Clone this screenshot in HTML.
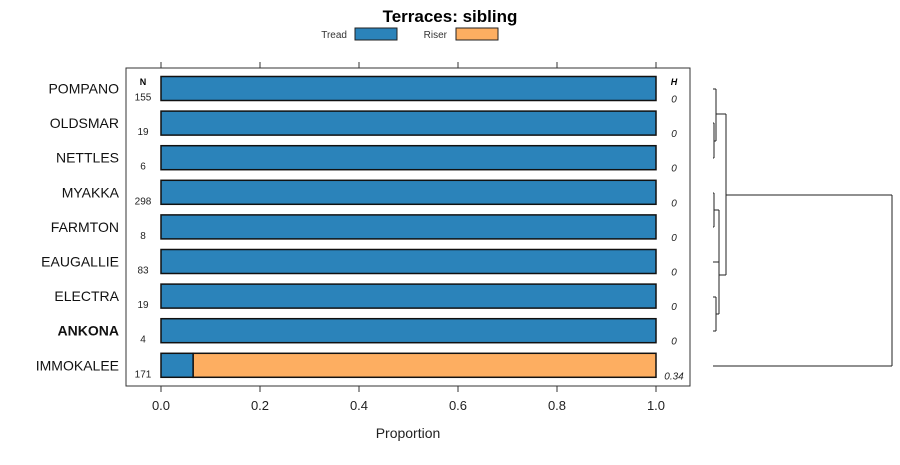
<!DOCTYPE html>
<html><head><meta charset="utf-8"><style>
body{margin:0;background:#fff;font-family:"Liberation Sans",sans-serif}
svg text{font-family:"Liberation Sans",sans-serif}
</style></head><body>
<svg id="c" width="900" height="460">
<text x="450" y="22" text-anchor="middle" font-size="17" font-weight="bold">Terraces: sibling</text>
<g>
<text x="347" y="38" text-anchor="end" font-size="10" fill="#333">Tread</text>
<rect x="355" y="28" width="42" height="12" fill="#2b83ba" stroke="#222"/>
<text x="447" y="38" text-anchor="end" font-size="10" fill="#333">Riser</text>
<rect x="456" y="28" width="42" height="12" fill="#fdae61" stroke="#222"/>
</g>
<rect x="126" y="68" width="564" height="318" fill="none" stroke="#333"/>
<text x="143" y="85" text-anchor="middle" font-size="9" font-weight="bold">N</text>
<text x="674" y="85" text-anchor="middle" font-size="9" font-weight="bold" font-style="italic">H</text>
<g id="bars"></g>
<g id="axis"></g>
<text x="408" y="438" text-anchor="middle" font-size="14" fill="#222">Proportion</text>
<g id="dendro" stroke="#222" stroke-width="1" fill="none"></g>
</svg>
<script>
const categories=["POMPANO","OLDSMAR","NETTLES","MYAKKA","FARMTON","EAUGALLIE","ELECTRA","ANKONA","IMMOKALEE"];
const treadValues=[1,1,1,1,1,1,1,1,0.065];
const riserValues=[0,0,0,0,0,0,0,0,0.935];
const nValues=[155,19,6,298,8,83,19,4,171];
const hValues=["0","0","0","0","0","0","0","0","0.34"];
const boldCategory="ANKONA";
const ticks=[0,0.2,0.4,0.6,0.8,1.0];
const tickLabels=["0.0","0.2","0.4","0.6","0.8","1.0"];
const NS="http://www.w3.org/2000/svg";
const x=v=>161+v*495;
const y=i=>88.5+i*34.6;
function mk(t,a,p){const e=document.createElementNS(NS,t);for(const k in a)e.setAttribute(k,a[k]);p.appendChild(e);return e;}
const bars=document.getElementById('bars');
categories.forEach((c,i)=>{
  const cy=y(i);
  const lab=mk('text',{x:119,y:cy+5,'text-anchor':'end','font-size':14,fill:'#111','font-weight':c===boldCategory?'bold':'normal'},bars);
  lab.textContent=c;
  
  
  const t=mk('rect',{x:x(0),y:cy-12,width:x(treadValues[i])-x(0),height:24,fill:'#2b83ba',stroke:'#111','stroke-width':1.5},bars);
  
  
  if(riserValues[i]>0){
    const r=mk('rect',{x:x(treadValues[i]),y:cy-12,width:x(treadValues[i]+riserValues[i])-x(treadValues[i]),height:24,fill:'#fdae61',stroke:'#111','stroke-width':1.5},bars);
    
    
  }
  const n=mk('text',{x:143,y:cy+12,'text-anchor':'middle','font-size':10,fill:'#222'},bars);
  n.textContent=nValues[i];
  
  
  const h=mk('text',{x:hValues[i]==="0"?674:674,y:cy+14,'text-anchor':'middle','font-size':10,'font-style':'italic',fill:'#222'},bars);
  h.textContent=hValues[i];
  
  
});
const ax=document.getElementById('axis');
ticks.forEach((v,i)=>{
  const b=mk('line',{x1:x(v),x2:x(v),y1:386,y2:392,stroke:'#333'},ax);
  
  
  const tp=mk('line',{x1:x(v),x2:x(v),y1:62,y2:68,stroke:'#333'},ax);
  
  
  const l=mk('text',{x:x(v),y:410,'text-anchor':'middle','font-size':13,fill:'#222'},ax);
  l.textContent=tickLabels[i];
  
  
});
const d=document.getElementById('dendro');
const segs=[
 [713,89,716,89],[716,89,716,141],[713,123,714,123],[713,158,714,158],[714,123,714,158],[714,141,716,141],
 [716,114,726,114],
 [713,193,714,193],[713,227,714,227],[714,193,714,227],[714,210,719,210],[713,262,719,262],[719,210,719,262],
 [713,297,716,297],[713,331,716,331],[716,297,716,331],[716,314,719,314],[719,236,719,314],
 [719,275,726,275],[726,114,726,275],[726,195,892,195],[892,195,892,366],[713,366,892,366]
];
segs.forEach(s=>{const l=mk('line',{x1:s[0],y1:s[1],x2:s[2],y2:s[3]},d);
  
  });
</script>
</body></html>
